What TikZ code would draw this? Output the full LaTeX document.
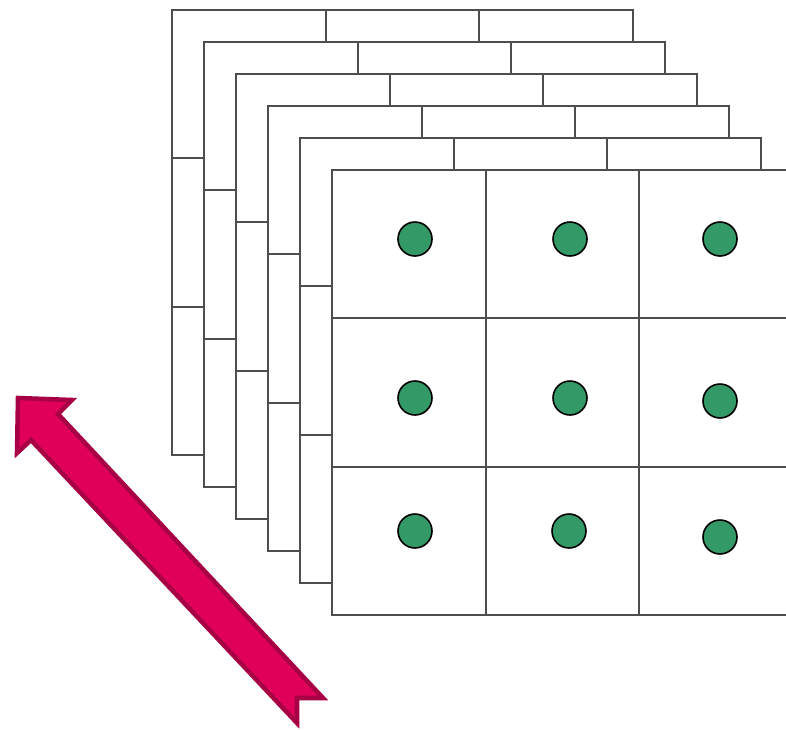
\documentclass[tikz,border=0pt]{standalone}
\definecolor{gridline}{HTML}{4D4D4D}
\definecolor{dotfill}{HTML}{339966}
\definecolor{arrowfill}{HTML}{E0005A}
\definecolor{arrowedge}{HTML}{A80044}
\tikzset{
  layerbox/.style={draw=gridline, fill=white, line width=1.9pt},
  gridseg/.style={draw=gridline, line width=1.9pt},
  dotmark/.style={circle, draw=black, fill=dotfill, line width=1.2pt, minimum size=25.5pt, inner sep=0pt},
  bigarrow/.style={fill=arrowfill, draw=arrowedge, line width=3.4pt, line join=miter},
}
\begin{document}
\begin{tikzpicture}[x=0.75pt, y=-0.75pt]
\useasboundingbox (0,0) rectangle (786,729);
\begin{scope}
\clip (0,0) rectangle (786,729);
\foreach \k in {0,...,5}{
  \pgfmathsetmacro{\xa}{172+32*\k}
  \pgfmathsetmacro{\ya}{10+32*\k}
  \path[layerbox] (\xa,\ya) rectangle ++(461,445);
  \draw[gridseg] (\xa+154,\ya) -- ++(0,445);
  \draw[gridseg] (\xa+307,\ya) -- ++(0,445);
  \draw[gridseg] (\xa,\ya+148) -- ++(461,0);
  \draw[gridseg] (\xa,\ya+297) -- ++(461,0);
}
\end{scope}
\node[dotmark] (d11) at (415,239) {};
\node[dotmark] (d12) at (570,239) {};
\node[dotmark] (d13) at (720,239) {};
\node[dotmark] (d21) at (415,398) {};
\node[dotmark] (d22) at (570,398) {};
\node[dotmark] (d23) at (720,401) {};
\node[dotmark] (d31) at (415,531) {};
\node[dotmark] (d32) at (569,531) {};
\node[dotmark] (d33) at (720,537) {};
\path[bigarrow] (18,398) -- (72,400) -- (58,414) -- (323,698) -- (297,698)
  -- (297,723) -- (31,440) -- (17,453) -- cycle;
\end{tikzpicture}
\end{document}
